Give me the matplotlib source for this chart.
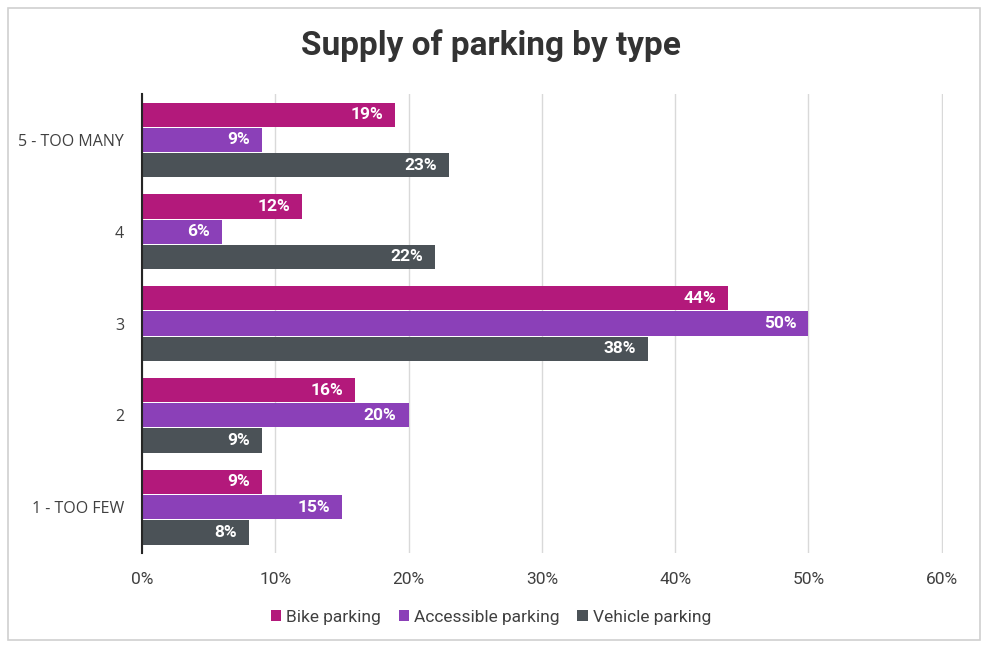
import numpy as np
import matplotlib.pyplot as plt
from matplotlib.patches import Rectangle

categories = ["1 - TOO FEW", "2", "3", "4", "5 - TOO MANY"]
bike = [9, 16, 44, 12, 19]
accessible = [15, 20, 50, 6, 9]
vehicle = [8, 9, 38, 22, 23]
series_names = ["Bike parking", "Accessible parking", "Vehicle parking"]
colors = ["#B3197B", "#8B40B8", "#4B5257"]

narrow = ["Roboto", "DejaVu Sans"]

fig = plt.figure(figsize=(9.82, 6.48), dpi=100)
ax = fig.add_axes([0.1446, 0.1466, 0.8157, 0.7083])

# outer chart frame
fig.patches.append(Rectangle((0.008, 0.012), 0.990, 0.975, transform=fig.transFigure,
                             fill=False, edgecolor="#D0D0D0", linewidth=1.2))

y = np.arange(len(categories))
h = 0.265
offsets = [h + 0.01, 0, -(h + 0.01)]
for vals, name, col, off in zip([bike, accessible, vehicle], series_names, colors, offsets):
    bars = ax.barh(y + off, vals, height=h, color=col, label=name, zorder=3)
    for b, v in zip(bars, vals):
        ax.text(b.get_width() - 0.9, b.get_y() + b.get_height() / 2, f"{v}%",
                ha="right", va="center", color="white", fontsize=12.5,
                fontweight="bold", family=narrow, zorder=4)

ax.set_xlim(0, 60.1)
ax.set_ylim(-0.5, 4.5)
ax.set_xticks(range(0, 61, 10))
ax.set_xticklabels([f"{t}%" for t in range(0, 61, 10)], family=narrow, fontsize=12.5, color="#404040")
ax.set_yticks(y)
ax.set_yticklabels(categories, fontsize=11.5, family=["Open Sans", "DejaVu Sans"], color="#404040")
ax.tick_params(axis="both", length=0)
ax.tick_params(axis="x", pad=14)
ax.tick_params(axis="y", pad=13)
ax.grid(axis="x", color="#D9D9D9", linewidth=1, zorder=0)
for s in ["top", "right", "bottom"]:
    ax.spines[s].set_visible(False)
ax.spines["left"].set_color("#262626")
ax.spines["left"].set_linewidth(1.5)
ax.spines["left"].set_zorder(5)

fig.suptitle("Supply of parking by type", x=0.5, y=0.955, fontsize=24,
             fontweight="bold", family=narrow, color="#333333")

fig.legend(loc="center", bbox_to_anchor=(0.5, 0.047), ncol=3, frameon=False,
           prop={"family": narrow, "size": 12.5}, handlelength=0.6, handleheight=0.6,
           handletextpad=0.3, columnspacing=1.0, labelcolor="#404040")

fig.savefig("out.png", dpi=100)
